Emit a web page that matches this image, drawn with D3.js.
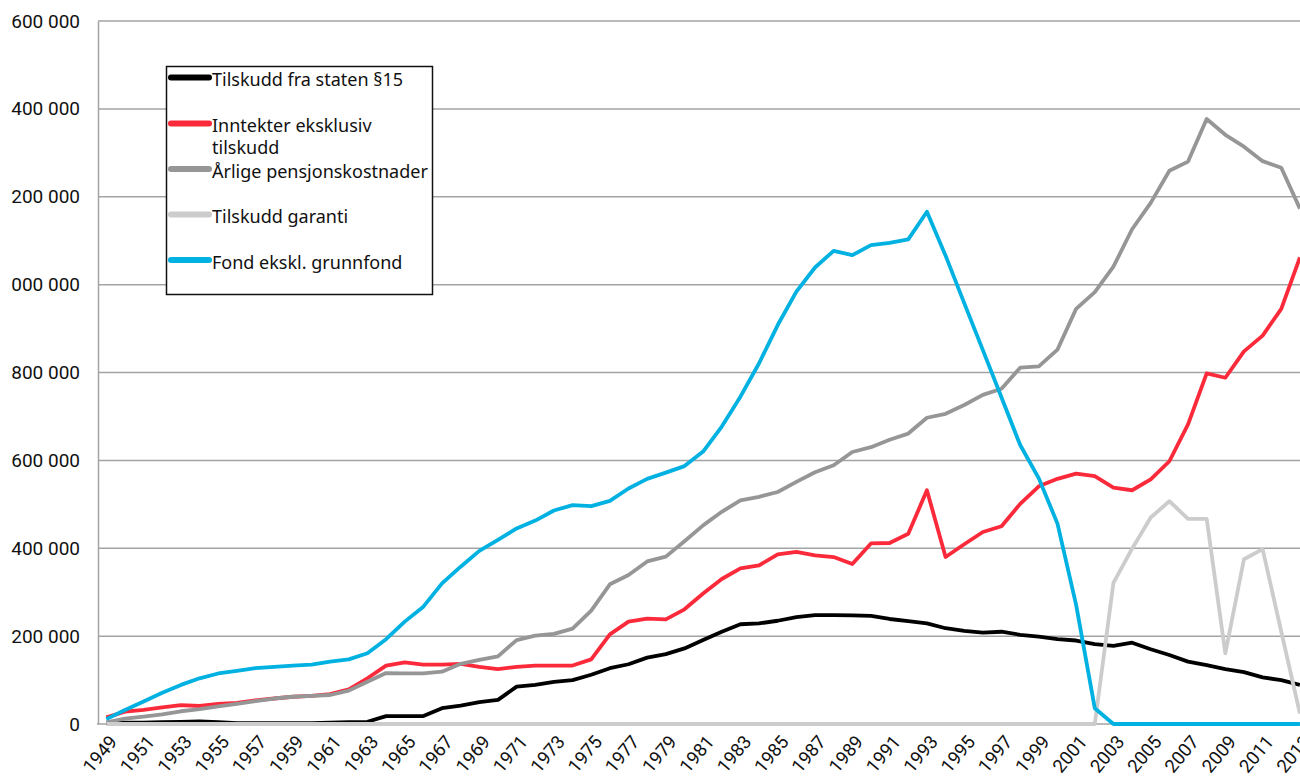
<!DOCTYPE html>
<html>
<head>
<meta charset="utf-8">
<script src="https://cdn.jsdelivr.net/npm/d3@7"></script>
<style>
  html, body { margin: 0; padding: 0; background: #fff; }
  svg { display: block; }
  .tick-y { font-family: Roboto, "Noto Sans", sans-serif; font-size: 19px; fill: #111; }
  .tick-x { font-family: Roboto, "Noto Sans", sans-serif; font-size: 18.5px; fill: #111; }
  .legend text { font-family: "Noto Sans", sans-serif; font-size: 18px; fill: #111; }
</style>
</head>
<body>
<svg id="chart" width="1300" height="780"></svg>
<script>
// categories
const years = d3.range(1949, 2014);

// series values (NOK)
const tilskuddStaten = [
  2000, 3000, 3000, 4000, 5000, 6000, 4000, 2000, 2000, 2000,
  2000, 2000, 3000, 4000, 5000, 18000, 18000, 18000, 36000, 42000,
  50000, 55000, 85000, 89000, 96000, 100000, 112000, 127000, 136000, 151000,
  159000, 172000, 191000, 210000, 227000, 229000, 235000, 243000, 248000, 248000,
  247000, 246000, 239000, 234000, 229000, 218000, 212000, 208000, 210000, 203000,
  199000, 193000, 190000, 182000, 178000, 185000, 170000, 157000, 142000, 134000,
  125000, 118000, 106000, 100000, 89000
];
const inntekter = [
  15000, 28000, 32000, 38000, 43000, 41000, 46000, 48000, 54000, 58000,
  62000, 64000, 68000, 79000, 104000, 133000, 140000, 135000, 135000, 137000,
  130000, 125000, 130000, 133000, 133000, 133000, 147000, 204000, 233000, 240000,
  238000, 261000, 297000, 330000, 354000, 361000, 386000, 392000, 384000, 380000,
  364000, 411000, 412000, 433000, 532000, 380000, 409000, 437000, 450000, 501000,
  541000, 558000, 570000, 564000, 538000, 532000, 557000, 598000, 682000, 798000,
  788000, 848000, 884000, 945000, 1062000
];
const pensjon = [
  4000, 12000, 17000, 22000, 29000, 34000, 40000, 46000, 52000, 58000,
  62000, 64000, 66000, 76000, 96000, 116000, 115000, 115000, 119000, 137000,
  146000, 154000, 191000, 201000, 205000, 217000, 258000, 318000, 339000, 370000,
  381000, 416000, 452000, 483000, 509000, 517000, 528000, 551000, 573000, 589000,
  619000, 630000, 647000, 661000, 697000, 706000, 726000, 749000, 763000, 811000,
  814000, 852000, 945000, 983000, 1041000, 1126000, 1186000, 1259000, 1280000, 1377000,
  1341000, 1314000, 1281000, 1266000, 1173000
];
const garanti = [
  0, 0, 0, 0, 0, 0, 0, 0, 0, 0,
  0, 0, 0, 0, 0, 0, 0, 0, 0, 0,
  0, 0, 0, 0, 0, 0, 0, 0, 0, 0,
  0, 0, 0, 0, 0, 0, 0, 0, 0, 0,
  0, 0, 0, 0, 0, 0, 0, 0, 0, 0,
  0, 0, 0, 0, 321000, 399000, 470000, 507000, 467000, 467000,
  161000, 375000, 398000, 210000, 24000
];
const fond = [
  11000, 32000, 51000, 71000, 89000, 104000, 115000, 121000, 127000, 130000,
  133000, 135000, 142000, 147000, 161000, 193000, 233000, 267000, 320000, 358000,
  394000, 419000, 445000, 463000, 486000, 498000, 496000, 508000, 536000, 558000,
  572000, 587000, 620000, 677000, 745000, 821000, 908000, 984000, 1039000, 1077000,
  1067000, 1090000, 1095000, 1103000, 1166000, 1066000, 958000, 851000, 743000, 635000,
  559000, 456000, 271000, 36000, 0, 0, 0, 0, 0, 0,
  0, 0, 0, 0, 0
];

const yTicks = [0, 200000, 400000, 600000, 800000, 1000000, 1200000, 1400000, 1600000];
const xTickYears = years.filter(y => (y - 1949) % 2 === 0);

const seriesNames = [
  "Tilskudd fra staten §15",
  "Inntekter eksklusiv tilskudd",
  "Årlige pensjonskostnader",
  "Tilskudd garanti",
  "Fond ekskl. grunnfond"
];
const seriesValues = [tilskuddStaten, inntekter, pensjon, garanti, fond];
const seriesColors = ["#000000", "#fb2a3b", "#969696", "#cccccc", "#00b1e1"];

const svg = d3.select("#chart");
const mLeft = 97, mTop = 21, mBottom = 724;
const step = 18.65;

const x = d3.scaleBand()
  .domain(years)
  .range([mLeft, mLeft + step * years.length]);
const xc = d => x(d) + x.bandwidth() / 2;

const y = d3.scaleLinear()
  .domain([0, 1600000])
  .range([mBottom, mTop]);

const nb = d3.formatLocale({ decimal: ",", thousands: "\u00a0", grouping: [3], currency: ["", ""] });
const fmt = nb.format(",d");

// gridlines
svg.append("g")
  .selectAll("line")
  .data(yTicks.filter(d => d > 0))
  .join("line")
  .attr("x1", mLeft + 1).attr("x2", 1300)
  .attr("y1", d => y(d)).attr("y2", d => y(d))
  .attr("stroke", "#a3a3a3")
  .attr("stroke-width", 1.5);

// y axis
const yAxis = svg.append("g")
  .attr("transform", `translate(${mLeft + 1},0)`)
  .call(d3.axisLeft(y).tickValues(yTicks).tickFormat(fmt).tickSize(0).tickPadding(18));
yAxis.attr("font-size", null).attr("font-family", null);
yAxis.select(".domain").attr("stroke", "#a3a3a3").attr("stroke-width", 1.5);
yAxis.selectAll("text").attr("class", "tick-y");

// the original picture is cropped at its left edge, which hides the leading "1 "
svg.append("clipPath").attr("id", "ylab")
  .append("rect")
  .attr("x", 8 - (mLeft + 1)).attr("y", 0)
  .attr("width", 200).attr("height", 780);
yAxis.attr("clip-path", "url(#ylab)");

// x axis baseline
svg.append("line")
  .attr("x1", mLeft).attr("x2", 1300)
  .attr("y1", mBottom).attr("y2", mBottom)
  .attr("stroke", "#a3a3a3").attr("stroke-width", 1.5);

// x labels
svg.append("g")
  .selectAll("text")
  .data(xTickYears)
  .join("text")
  .attr("class", "tick-x")
  .attr("text-anchor", "end")
  .attr("transform", d => `translate(${xc(d) + 7},${mBottom + 14}) rotate(-50)`)
  .attr("dy", "0.35em")
  .text(d => d);

// lines
const line = d3.line()
  .x((d, i) => xc(years[i]))
  .y(d => y(d));

svg.append("g")
  .selectAll("path")
  .data(seriesValues)
  .join("path")
  .attr("d", d => line(d))
  .attr("fill", "none")
  .attr("stroke", (d, i) => seriesColors[i])
  .attr("stroke-width", 3.8)
  .attr("stroke-linejoin", "round");

// legend
const lg = svg.append("g").attr("class", "legend");
lg.append("rect")
  .attr("x", 166.5).attr("y", 66.5)
  .attr("width", 266).attr("height", 228)
  .attr("fill", "#fff")
  .attr("stroke", "#111").attr("stroke-width", 1.5);

const legendY = [77.5, 123.5, 169, 214.5, 260];
const items = lg.selectAll("g.item")
  .data(seriesNames)
  .join("g")
  .attr("class", "item")
  .attr("transform", (d, i) => `translate(0,${legendY[i]})`);

items.append("line")
  .attr("x1", 171).attr("x2", 209)
  .attr("stroke", (d, i) => seriesColors[i])
  .attr("stroke-width", 6)
  .attr("stroke-linecap", "round");

items.append("text")
  .attr("x", 212)
  .attr("y", 8.5)
  .each(function (d) {
    const t = d3.select(this);
    if (d === "Inntekter eksklusiv tilskudd") {
      t.append("tspan").attr("x", 212).text("Inntekter eksklusiv");
      t.append("tspan").attr("x", 212).attr("dy", 22).text("tilskudd");
    } else {
      t.text(d);
    }
  });
</script>
</body>
</html>
